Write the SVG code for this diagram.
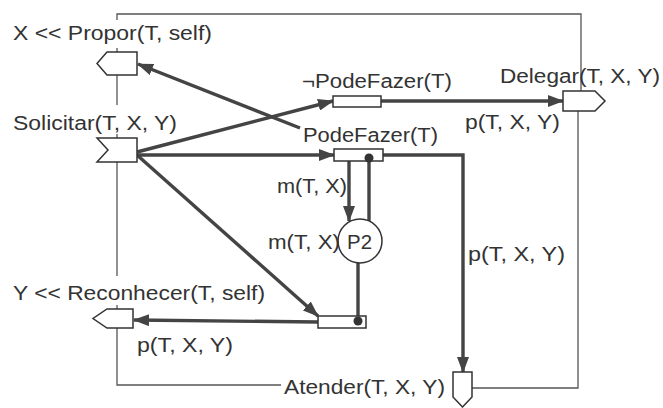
<svg xmlns="http://www.w3.org/2000/svg" width="663" height="408" viewBox="0 0 663 408">
<style>
.t{font-family:"Liberation Sans",Arial,sans-serif;font-size:20px;fill:#333}
.frame{stroke:#555;stroke-width:1.3;fill:none}
.arc{stroke:#444;stroke-width:3.4;fill:none}
.box{fill:#fff;stroke:#333;stroke-width:1.5}
.dot{fill:#333}
</style>
<defs>
<marker id="ah" viewBox="0 0 16 12" refX="15" refY="6" markerWidth="16" markerHeight="12" markerUnits="userSpaceOnUse" orient="auto">
<path d="M0,0 L16,6 L0,12 Z" fill="#444"/>
</marker>
</defs>
<rect width="663" height="408" fill="#fff"/>
<g id="connectors">
<path class="frame" d="M117,20 V14 H581 V91"/>
<path class="frame" d="M117,48 V52"/>
<path class="frame" d="M117,75 V105"/>
<path class="frame" d="M117,134 V138"/>
<path class="frame" d="M117,162 V276"/>
<path class="frame" d="M117,305 V309"/>
<path class="frame" d="M117,328 V385 H281"/>
<path class="frame" d="M472,388 H578 V111"/>
<path class="arc" d="M137,152 L333,101" marker-end="url(#ah)"/>
<path class="arc" d="M137,155 L334,155" marker-end="url(#ah)"/>
<path class="arc" d="M137,155 L318,316" marker-end="url(#ah)"/>
<path class="arc" d="M300,128 L138,64" marker-end="url(#ah)"/>
<path class="arc" d="M381,101 L563,101" marker-end="url(#ah)"/>
<path class="arc" d="M383,155 H463 V372" marker-end="url(#ah)"/>
<path class="arc" d="M349,161 V221" marker-end="url(#ah)"/>
<path class="arc" d="M369,221 V158"/>
<path class="arc" d="M358,263 V320"/>
<path class="arc" d="M318,322 L134,320" marker-end="url(#ah)"/>
</g>
<g id="propor">
<path class="box" d="M107,52 H137 V75 H107 L97,63.5 Z"/>
<text class="t" x="13" y="40" textLength="199" lengthAdjust="spacingAndGlyphs">X &lt;&lt; Propor(T, self)</text>
</g>
<g id="solicitar">
<path class="box" d="M97,138 H137 V162 H97 L108,150 Z"/>
<text class="t" x="13" y="130" textLength="164" lengthAdjust="spacingAndGlyphs">Solicitar(T, X, Y)</text>
</g>
<g id="naoPodeFazer">
<rect class="box" x="333" y="96" width="48" height="11"/>
<text class="t" x="302" y="88" textLength="150" lengthAdjust="spacingAndGlyphs">¬PodeFazer(T)</text>
</g>
<g id="podeFazer">
<rect class="box" x="334" y="149" width="49" height="12"/>
<text class="t" x="303" y="142" textLength="135" lengthAdjust="spacingAndGlyphs">PodeFazer(T)</text>
<circle class="dot" cx="369" cy="158" r="4.5"/>
</g>
<g id="delegar">
<path class="box" d="M563,91 H595 L605,101 L595,111 H563 Z"/>
<text class="t" x="500" y="83" textLength="160" lengthAdjust="spacingAndGlyphs">Delegar(T, X, Y)</text>
</g>
<g id="p2">
<circle class="box" cx="360" cy="241" r="22"/>
<text class="t" x="347" y="249" textLength="25" lengthAdjust="spacingAndGlyphs">P2</text>
</g>
<g id="transicaoInferior">
<rect class="box" x="318" y="316" width="48" height="12"/>
<circle class="dot" cx="358" cy="321" r="4.5"/>
</g>
<g id="reconhecer">
<path class="box" d="M107,309 H133 V328 H107 L93,318.5 Z"/>
<text class="t" x="13" y="300" textLength="252" lengthAdjust="spacingAndGlyphs">Y &lt;&lt; Reconhecer(T, self)</text>
</g>
<g id="atender">
<path class="box" d="M453,372 H472 V397 L462.5,407 L453,397 Z"/>
<text class="t" x="284" y="394" textLength="161" lengthAdjust="spacingAndGlyphs">Atender(T, X, Y)</text>
</g>
<g id="labels">
<text class="t" x="465" y="129" textLength="95" lengthAdjust="spacingAndGlyphs">p(T, X, Y)</text>
<text class="t" x="277" y="193" textLength="70" lengthAdjust="spacingAndGlyphs">m(T, X)</text>
<text class="t" x="268" y="249" textLength="72" lengthAdjust="spacingAndGlyphs">m(T, X)</text>
<text class="t" x="468" y="261" textLength="97" lengthAdjust="spacingAndGlyphs">p(T, X, Y)</text>
<text class="t" x="137" y="352" textLength="96" lengthAdjust="spacingAndGlyphs">p(T, X, Y)</text>
</g>
</svg>
